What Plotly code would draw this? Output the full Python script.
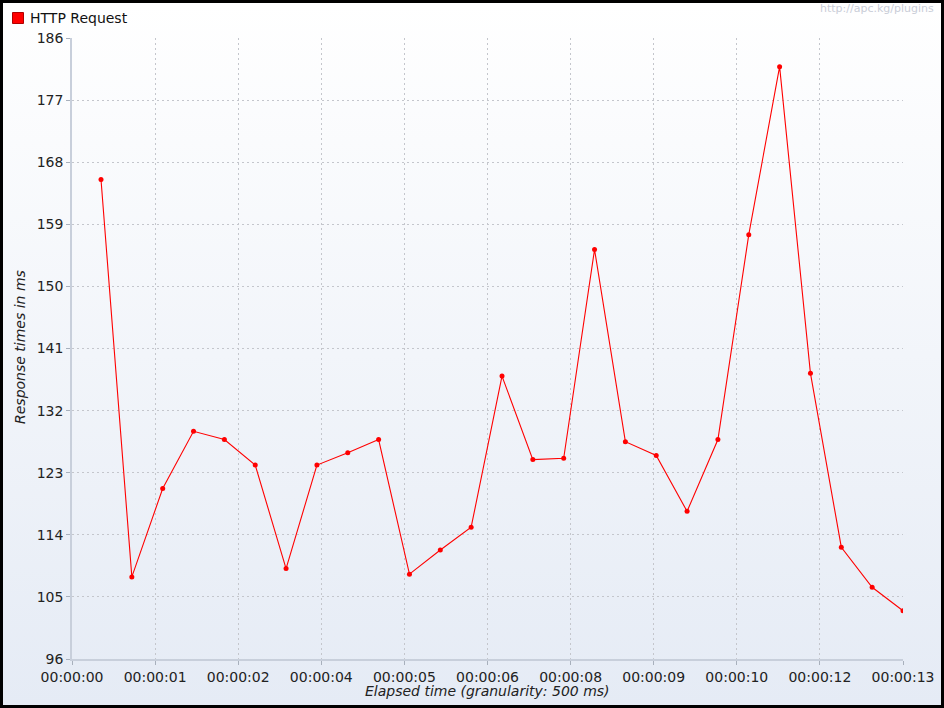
import plotly.graph_objects as go

# ---- data ----
series_name = "HTTP Request"
elapsed_ms = [470, 970, 1470, 1970, 2470, 2970, 3470, 3970, 4470, 4970,
              5470, 5970, 6470, 6970, 7470, 7970, 8470, 8970, 9470, 9970,
              10470, 10970, 11470, 11970, 12470, 12970, 13470]
response_ms = [165.5, 107.9, 120.7, 129.0, 127.8, 124.1, 109.1, 124.1, 125.9, 127.8,
               108.3, 111.8, 115.1, 137.0, 124.9, 125.1, 155.35, 127.5, 125.5, 117.4,
               127.8, 157.5, 181.85, 137.4, 112.2, 106.4, 103.0]
x_max_ms = 13470
x_tick_labels = ["00:00:00", "00:00:01", "00:00:02", "00:00:04", "00:00:05", "00:00:06",
                 "00:00:08", "00:00:09", "00:00:10", "00:00:12", "00:00:13"]
y_min, y_max, y_step = 96, 186, 9
x_title = "Elapsed time (granularity: 500 ms)"
y_title = "Response times in ms"
watermark = "http://apc.kg/plugins"

W, H = 944, 708
n_ticks = len(x_tick_labels)
x_tickvals = [x_max_ms * i / (n_ticks - 1) for i in range(n_ticks)]
y_tickvals = list(range(y_min, y_max + 1, y_step))

font = "DejaVu Sans"
fig = go.Figure()

# background gradient panel (full figure subplot, drawn underneath)
fig.add_trace(go.Scatter(
    x=[3, 941, 941, 3, 3], y=[3, 3, 705, 705, 3], mode="lines",
    fill="toself", line=dict(width=0, color="rgba(0,0,0,0)"),
    fillgradient=dict(type="vertical",
                      colorscale=[[0, "#e5ebf5"], [1, "#ffffff"]]),
    hoverinfo="skip", showlegend=False, xaxis="x", yaxis="y"))

# main series
fig.add_trace(go.Scatter(
    x=elapsed_ms, y=response_ms, mode="lines+markers", name=series_name,
    line=dict(color="#ff0000", width=1.1),
    marker=dict(color="#ff0000", size=5),
    showlegend=False, xaxis="x2", yaxis="y2"))

grid = dict(showgrid=True, gridcolor="#c4c6cc", griddash="2px,3px", gridwidth=1)

fig.update_layout(
    template="none",
    width=W, height=H,
    showlegend=False,
    margin=dict(l=0, r=0, t=0, b=0, pad=0, autoexpand=False),
    paper_bgcolor="#000000", plot_bgcolor="rgba(0,0,0,0)",
    font=dict(family=font, size=14, color="#222222"),
    xaxis=dict(domain=[0, 1], range=[0, W], visible=False, fixedrange=True,
               automargin=False),
    yaxis=dict(domain=[0, 1], range=[H, 0], visible=False, fixedrange=True,
               automargin=False),
    xaxis2=dict(domain=[72 / W, 903 / W], anchor="y2", range=[0, x_max_ms],
                tickmode="array", tickvals=x_tickvals, ticktext=x_tick_labels,
                ticks="outside", ticklen=4, tickcolor="#a8b0bc", automargin=False,
                showline=True, linecolor="#c8cfdb", linewidth=1.5,
                zeroline=False, tickfont=dict(size=14, color="#222222"), **grid),
    yaxis2=dict(domain=[1 - 659 / H, 1 - 38 / H], anchor="x2", range=[y_min, y_max],
                tickmode="array", tickvals=y_tickvals, automargin=False,
                ticks="outside", ticklen=4, tickcolor="#a8b0bc",
                showline=True, linecolor="#c8cfdb", linewidth=1.5,
                zeroline=False, tickfont=dict(size=14, color="#222222"), **grid),
    shapes=[
        # legend key
        dict(type="rect", xref="x", yref="y", x0=12.5, x1=23.5, y0=12.5, y1=23.5,
             fillcolor="#ff0000", line=dict(color="#b00000", width=1)),
    ],
    annotations=[
        dict(text=series_name, xref="paper", yref="paper", x=28 / W, y=1 - 18 / H,
             xanchor="left", yanchor="middle", showarrow=False,
             font=dict(size=14, color="#111111")),
        dict(text=watermark, xref="paper", yref="paper", x=936 / W, y=1 - 9 / H,
             xanchor="right", yanchor="middle", showarrow=False,
             font=dict(size=11, color="#c9cdd8")),
        dict(text=f"<i>{x_title}</i>", xref="paper", yref="paper", x=487 / W, y=1 - 691 / H,
             xanchor="center", yanchor="middle", showarrow=False,
             font=dict(size=14, color="#222222")),
        dict(text=f"<i>{y_title}</i>", xref="paper", yref="paper", x=20 / W, y=1 - 347 / H,
             xanchor="center", yanchor="middle", showarrow=False, textangle=-90,
             font=dict(size=14, color="#222222")),
    ],
)

fig.write_html("out.html", config={"displayModeBar": False},
               post_script="document.body.style.margin='0px';")
